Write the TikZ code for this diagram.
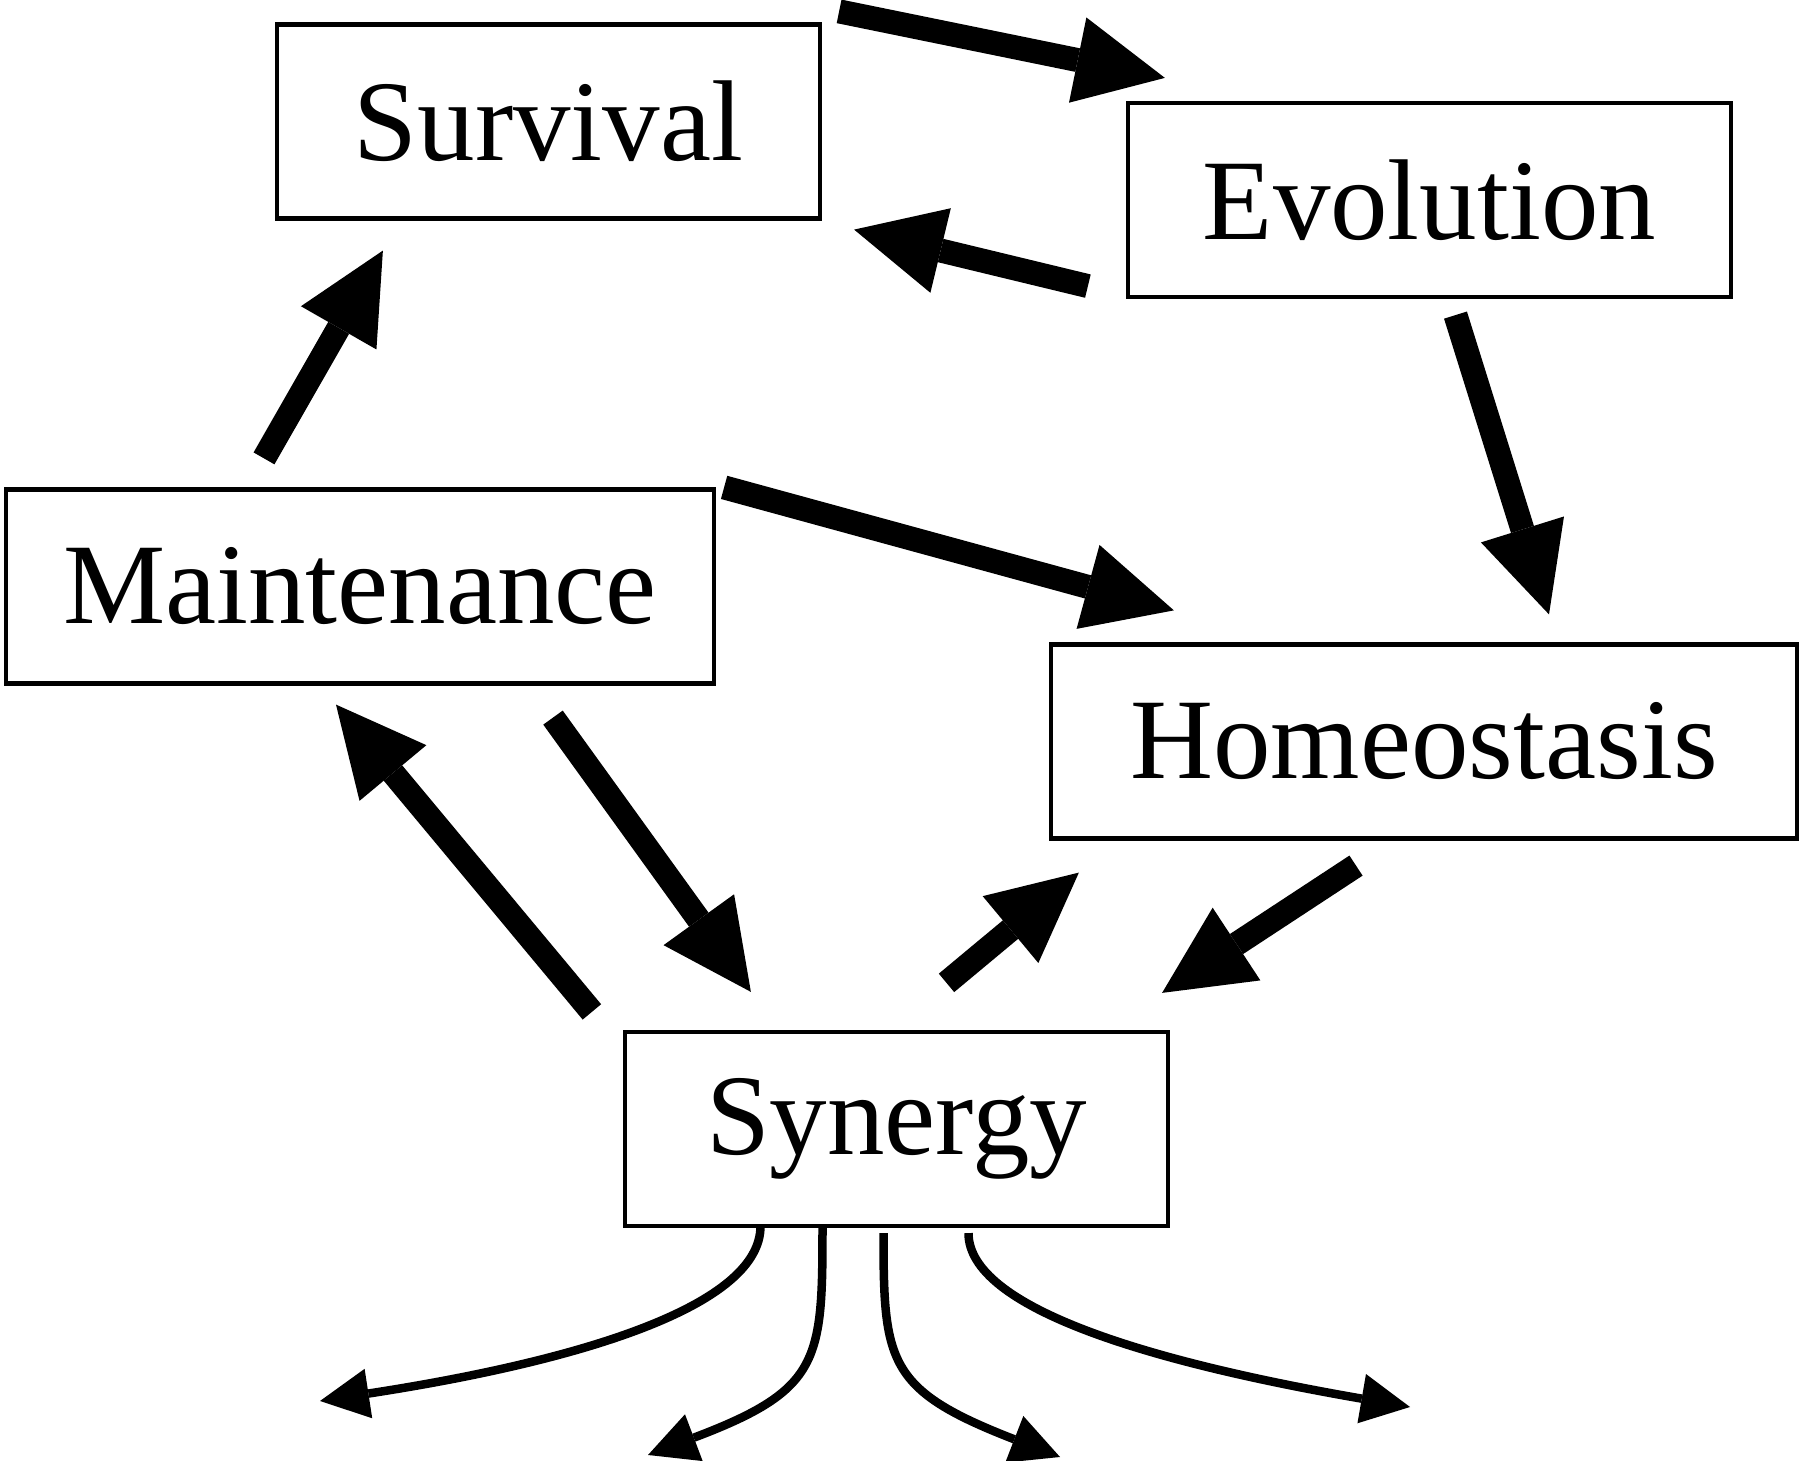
\documentclass[tikz,border=0pt]{standalone}
\usepackage{fontspec}
\setmainfont{Liberation Serif}
\usetikzlibrary{arrows.meta}

\begin{document}
\begin{tikzpicture}[
    box/.style={draw, line width=1.2pt, inner sep=0pt, minimum height=1.94cm,
      font=\fontsize{32.7}{39}\selectfont},
    bigarrow/.style={-{Triangle[length=0.89cm, width=0.87cm, line width=0pt]}, line width=0.24cm},
    thinarrow/.style={-{Triangle[length=0.49cm, width=0.5cm, line width=0pt]}, line width=0.085cm},
  ]
  \useasboundingbox (0,0) rectangle (18,-14.61);
  % concepts
  \node[box, minimum width=5.43cm] (surv)  at (5.485,-1.215) {Survival};
  \node[box, minimum width=6.03cm] (evol)  at (14.295,-2.0)  {Evolution};
  \node[box, minimum width=7.08cm] (maint) at (3.60,-5.865)  {Maintenance};
  \node[box, minimum width=7.46cm] (homeo) at (14.24,-7.415) {Homeostasis};
  \node[box, minimum width=5.43cm] (syn)   at (8.965,-11.29) {Synergy};
  % loop between the concepts
  \draw[bigarrow] ([shift={(0.17,0.11)}]surv.north east) -- ([shift={(0.39,0.23)}]evol.north west);
  \draw[bigarrow] ([shift={(-0.38,0.13)}]evol.south west) -- ([shift={(0.32,-0.09)}]surv.south east);
  \draw[bigarrow] ([shift={(0.26,-0.16)}]evol.south) -- ([shift={(1.25,0.28)}]homeo.north);
  \draw[bigarrow] ([shift={(0.08,0)}]maint.north east) -- ([shift={(1.25,0.32)}]homeo.north west);
  \draw[bigarrow] ([shift={(-0.96,0.29)}]maint.north) -- ([shift={(1.08,-0.30)}]surv.south west);
  \draw[bigarrow] ([shift={(-0.31,0.18)}]syn.north west) -- ([shift={(-0.24,-0.19)}]maint.south);
  \draw[bigarrow] ([shift={(1.93,-0.32)}]maint.south) -- ([shift={(1.28,0.38)}]syn.north west);
  \draw[bigarrow] ([shift={(0.50,0.47)}]syn.north) -- ([shift={(0.30,-0.32)}]homeo.south west);
  \draw[bigarrow] ([shift={(-0.68,-0.25)}]homeo.south) -- ([shift={(-0.08,0.37)}]syn.north east);
  % outputs of synergy
  \coordinate (out1) at (3.20,-14.01);
  \coordinate (out2) at (6.48,-14.55);
  \coordinate (out3) at (10.60,-14.57);
  \coordinate (out4) at (14.10,-14.07);
  \foreach \dx/\dy/\ay/\bx/\by/\endpt in {-1.36/0.02/-0.80/2.60/0.40/out1,
      -0.74/0/-1.33/1.72/0.65/out2, -0.13/-0.05/-1.29/-1.73/0.67/out3,
      0.72/-0.05/-0.75/-2.60/0.45/out4} {%
    \draw[thinarrow] ([shift={(\dx,\dy)}]syn.south) .. controls +(0,\ay) and +(\bx,\by) .. (\endpt);
  }
\end{tikzpicture}
\end{document}
